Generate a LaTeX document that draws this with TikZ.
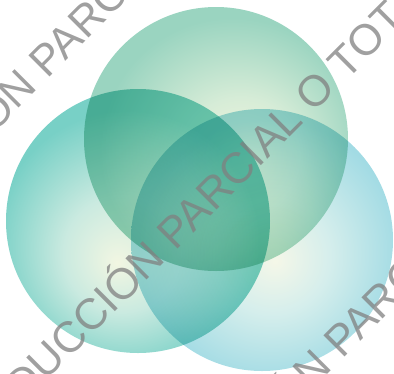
\documentclass[tikz,border=0pt]{standalone}
\usepackage{fontspec}
\setmainfont{Liberation Sans}
\definecolor{topin}{HTML}{F5F6DC}
\definecolor{topmid}{HTML}{D6ECD7}
\definecolor{topout}{HTML}{9AD4C0}
\definecolor{leftin}{HTML}{F2F6E2}
\definecolor{leftmid}{HTML}{CAEAE0}
\definecolor{leftout}{HTML}{78D0C6}
\definecolor{rightin}{HTML}{F5F7E8}
\definecolor{rightmid}{HTML}{D5EEEC}
\definecolor{rightout}{HTML}{A2DBE4}
\definecolor{wmgray}{HTML}{808080}
\pgfdeclareradialshading{topshade}{\pgfpoint{6bp}{-4bp}}{color(0bp)=(topin); color(11bp)=(topmid); color(25bp)=(topout); color(50bp)=(topout)}
\pgfdeclareradialshading{leftshade}{\pgfpoint{-4bp}{-8bp}}{color(0bp)=(leftin); color(11bp)=(leftmid); color(25bp)=(leftout); color(50bp)=(leftout)}
\pgfdeclareradialshading{rightshade}{\pgfpoint{2.5bp}{-4bp}}{color(0bp)=(rightin); color(11bp)=(rightmid); color(25bp)=(rightout); color(50bp)=(rightout)}
\tikzset{
  wmark/.style={rotate=45, anchor=base west, inner sep=0pt, text=wmgray, text opacity=0.75, font=\fontsize{43.5}{43.5}\selectfont}
}
\begin{document}
\begin{tikzpicture}[x=1pt, y=-1pt]
\useasboundingbox (0,0) rectangle (394,373);
\clip (0,0) rectangle (394,373);
\begin{scope}[blend mode=multiply]
  \shade[shading=topshade] (216,139) circle (132pt);
  \shade[shading=leftshade] (138,221) circle (132pt);
  \shade[shading=rightshade] (262,240) circle (131pt);
\end{scope}
\node[wmark] (wm1) at (175.6,251.5) {\llap{REPRODUCCIÓN }PARCIAL O TOTAL};
\node[wmark] (wm2) at (47.6,79.5) {\llap{REPRODUCCIÓN }PARCIAL O TOTAL};
\node[wmark] (wm3) at (342,360) {\llap{REPRODUCCIÓN }PARCIAL O TOTAL};
\end{tikzpicture}
\end{document}
